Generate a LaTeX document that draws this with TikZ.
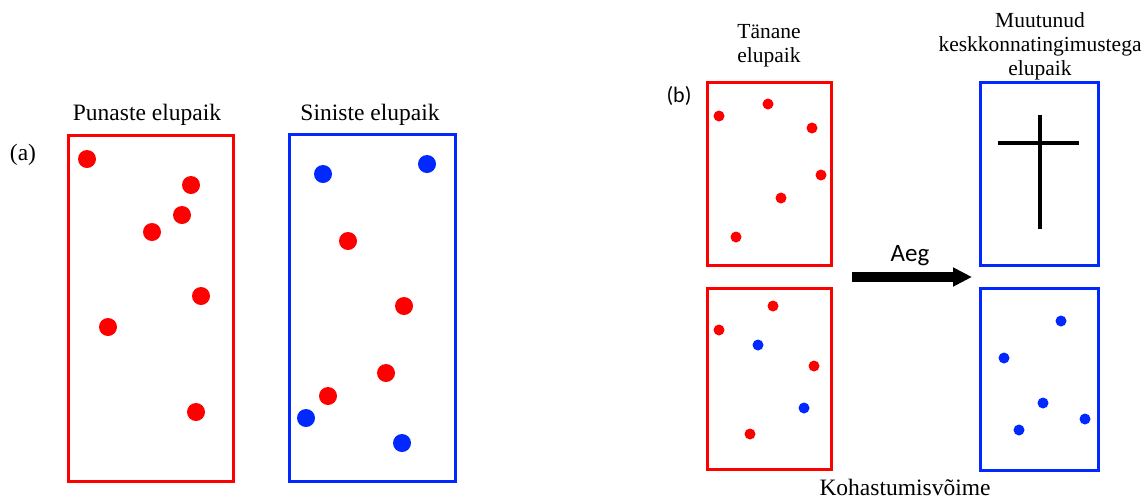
\documentclass[tikz,border=0pt]{standalone}
\usepackage{fontspec}
\setmainfont{Liberation Serif}
\newfontfamily\sansf{Carlito}
\usetikzlibrary{arrows.meta}
\definecolor{myred}{RGB}{255,0,0}
\definecolor{myblue}{RGB}{0,40,255}
\tikzset{
  lbl/.style={inner sep=0pt, anchor=base, font=\fontsize{23.5}{24}\selectfont, align=center},
  lblsm/.style={lbl, font=\fontsize{21.5}{24}\selectfont},
  rbox/.style={draw=myred, line width=3pt, inner sep=0pt},
  bbox/.style={draw=myblue, line width=3pt, inner sep=0pt},
  bigred/.style={circle, fill=myred, minimum size=18pt, inner sep=0pt},
  bigblue/.style={circle, fill=myblue, minimum size=18pt, inner sep=0pt},
  smred/.style={circle, fill=myred, minimum size=11pt, inner sep=0pt},
  smblue/.style={circle, fill=myblue, minimum size=11pt, inner sep=0pt},
}
\begin{document}
\begin{tikzpicture}[x=1pt,y=-1pt]
\useasboundingbox (0,0) rectangle (1147,499);
% (a) panel
\node[lbl] (la) at (23,160) {(a)};
\node[lbl] (tpun) at (147,120) {Punaste elupaik};
\node[lbl] (tsin) at (370,120) {Siniste elupaik};
\node[rbox, minimum width=165pt, minimum height=346pt] (boxA1) at (150.5,308) {};
\node[bbox, minimum width=166pt, minimum height=347pt] (boxA2) at (372,307.5) {};
\node[bigred] (a1) at (87,159) {};
\node[bigred] (a2) at (191,185) {};
\node[bigred] (a3) at (182,215) {};
\node[bigred] (a4) at (152,232) {};
\node[bigred] (a5) at (201,296) {};
\node[bigred] (a6) at (108,327) {};
\node[bigred] (a7) at (196,412) {};
\node[bigblue] (b1) at (323,174) {};
\node[bigblue] (b2) at (427,164) {};
\node[bigred] (b3) at (348,241) {};
\node[bigred] (b4) at (404,306) {};
\node[bigred] (b5) at (386,373) {};
\node[bigred] (b6) at (328,396) {};
\node[bigblue] (b7) at (306,418) {};
\node[bigblue] (b8) at (402,443) {};
% (b) panel
\node[lbl, font=\sansf\fontsize{22}{24}\selectfont] (lb) at (679,102) {(b)};
\node[lblsm] (ttan) at (769,62) {Tänane\\elupaik};
\node[lblsm] (tmuu) at (1040,75) {Muutunud\\keskkonnatingimustega\\elupaik};
\node[rbox, minimum width=124pt, minimum height=183pt] (boxB1) at (769,173.5) {};
\node[rbox, minimum width=124pt, minimum height=181pt] (boxB2) at (769,378.5) {};
\node[bbox, minimum width=118pt, minimum height=183pt] (boxB3) at (1039,173.5) {};
\node[bbox, minimum width=118pt, minimum height=182pt] (boxB4) at (1039,379) {};
\node[smred] (c1) at (719,116) {};
\node[smred] (c2) at (768,104) {};
\node[smred] (c3) at (812,128) {};
\node[smred] (c4) at (821,175) {};
\node[smred] (c5) at (781,198) {};
\node[smred] (c6) at (736,237) {};
\node[smred] (d1) at (773,306) {};
\node[smred] (d2) at (719,330) {};
\node[smblue] (d3) at (758,345) {};
\node[smred] (d4) at (814,366) {};
\node[smblue] (d5) at (804,408) {};
\node[smred] (d6) at (750,434) {};
\node[smblue] (e1) at (1061,321) {};
\node[smblue] (e2) at (1004,358) {};
\node[smblue] (e3) at (1043,403) {};
\node[smblue] (e4) at (1085,419) {};
\node[smblue] (e5) at (1019,430) {};
% cross
\coordinate (crT) at (1040,115);
\coordinate (crB) at (1040,229);
\coordinate (crL) at (998,143);
\coordinate (crR) at (1079,143);
\draw[line width=4pt] (crT) -- (crB);
\draw[line width=4pt] (crL) -- (crR);
% arrow
\coordinate (arS) at (852,277);
\coordinate (arE) at (972,277);
\draw[line width=10pt, -{Triangle[length=19pt,width=18pt]}] (arS) -- (arE);
\node[lbl, font=\sansf\fontsize{25}{28}\selectfont] (aeg) at (910,261) {Aeg};
\node[lbl] (koh) at (905,495) {Kohastumisvõime};
\end{tikzpicture}
\end{document}
